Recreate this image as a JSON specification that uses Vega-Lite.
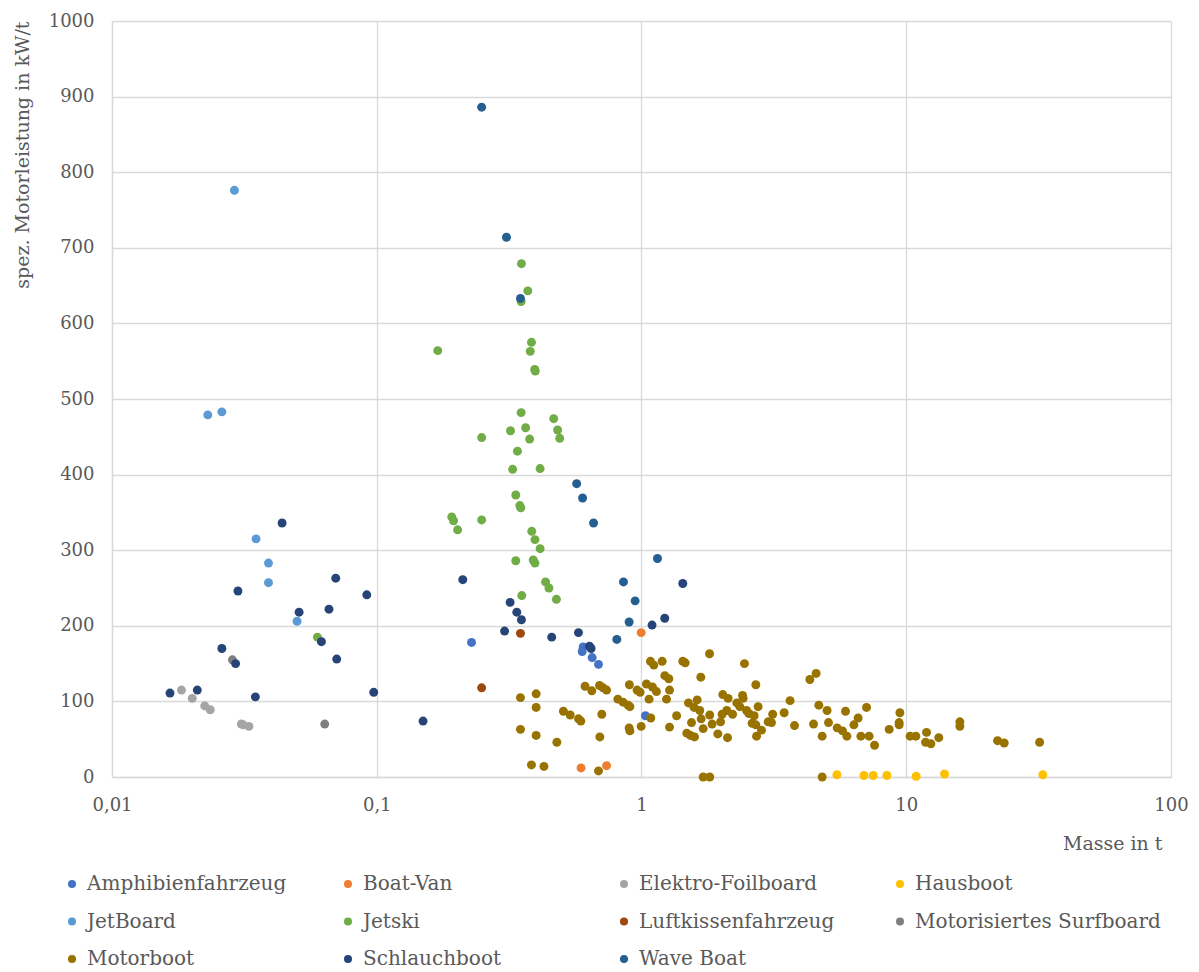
{
  "$schema": "https://vega.github.io/schema/vega-lite/v6.json",
  "width": 1059,
  "height": 756,
  "autosize": {"type": "none"},
  "padding": {"left": 112, "top": 21, "right": 28, "bottom": 195},
  "background": "white",
  "datasets": {
    "pts": [
      {"t":"Amphibienfahrzeug","m":0.228,"p":178},{"t":"Amphibienfahrzeug","m":0.602,"p":172},{"t":"Amphibienfahrzeug","m":0.597,"p":166},{"t":"Amphibienfahrzeug","m":0.651,"p":158},{"t":"Amphibienfahrzeug","m":0.688,"p":149},{"t":"Amphibienfahrzeug","m":1.035,"p":81},
      {"t":"Boat-Van","m":0.997,"p":191},{"t":"Boat-Van","m":0.591,"p":12},{"t":"Boat-Van","m":0.738,"p":15},
      {"t":"Elektro-Foilboard","m":0.0183,"p":115},{"t":"Elektro-Foilboard","m":0.0201,"p":104},{"t":"Elektro-Foilboard","m":0.0224,"p":94},{"t":"Elektro-Foilboard","m":0.0235,"p":89},{"t":"Elektro-Foilboard","m":0.0308,"p":70},{"t":"Elektro-Foilboard","m":0.0313,"p":69},{"t":"Elektro-Foilboard","m":0.0329,"p":67},
      {"t":"Hausboot","m":5.47,"p":3},{"t":"Hausboot","m":6.92,"p":2},{"t":"Hausboot","m":7.5,"p":2},{"t":"Hausboot","m":8.45,"p":2},{"t":"Hausboot","m":10.9,"p":1},{"t":"Hausboot","m":13.95,"p":4},{"t":"Hausboot","m":32.8,"p":3},
      {"t":"JetBoard","m":0.029,"p":776},{"t":"JetBoard","m":0.023,"p":479},{"t":"JetBoard","m":0.026,"p":483},{"t":"JetBoard","m":0.035,"p":315},{"t":"JetBoard","m":0.039,"p":283},{"t":"JetBoard","m":0.039,"p":257},{"t":"JetBoard","m":0.05,"p":206},
      {"t":"Jetski","m":0.0597,"p":185},{"t":"Jetski","m":0.352,"p":679},{"t":"Jetski","m":0.372,"p":643},{"t":"Jetski","m":0.351,"p":629},{"t":"Jetski","m":0.384,"p":575},{"t":"Jetski","m":0.38,"p":563},{"t":"Jetski","m":0.17,"p":564},{"t":"Jetski","m":0.395,"p":539},{"t":"Jetski","m":0.397,"p":537},{"t":"Jetski","m":0.351,"p":482},{"t":"Jetski","m":0.466,"p":474},{"t":"Jetski","m":0.249,"p":449},{"t":"Jetski","m":0.32,"p":458},{"t":"Jetski","m":0.365,"p":462},{"t":"Jetski","m":0.378,"p":447},{"t":"Jetski","m":0.482,"p":459},{"t":"Jetski","m":0.491,"p":448},{"t":"Jetski","m":0.34,"p":431},{"t":"Jetski","m":0.326,"p":407},{"t":"Jetski","m":0.414,"p":408},{"t":"Jetski","m":0.335,"p":373},{"t":"Jetski","m":0.347,"p":359},{"t":"Jetski","m":0.35,"p":356},{"t":"Jetski","m":0.192,"p":344},{"t":"Jetski","m":0.195,"p":339},{"t":"Jetski","m":0.202,"p":327},{"t":"Jetski","m":0.249,"p":340},{"t":"Jetski","m":0.385,"p":325},{"t":"Jetski","m":0.396,"p":314},{"t":"Jetski","m":0.414,"p":302},{"t":"Jetski","m":0.335,"p":286},{"t":"Jetski","m":0.39,"p":287},{"t":"Jetski","m":0.396,"p":283},{"t":"Jetski","m":0.434,"p":258},{"t":"Jetski","m":0.447,"p":250},{"t":"Jetski","m":0.353,"p":240},{"t":"Jetski","m":0.477,"p":235},
      {"t":"Luftkissenfahrzeug","m":0.349,"p":190},{"t":"Luftkissenfahrzeug","m":0.249,"p":118},
      {"t":"Motorisiertes Surfboard","m":0.0285,"p":155},{"t":"Motorisiertes Surfboard","m":0.0636,"p":70},
      {"t":"Motorboot","m":0.349,"p":105},{"t":"Motorboot","m":0.4,"p":110},{"t":"Motorboot","m":0.4,"p":92},{"t":"Motorboot","m":0.349,"p":63},{"t":"Motorboot","m":0.4,"p":55},{"t":"Motorboot","m":0.479,"p":46},{"t":"Motorboot","m":0.384,"p":16},{"t":"Motorboot","m":0.428,"p":14},{"t":"Motorboot","m":0.688,"p":8},{"t":"Motorboot","m":0.507,"p":87},{"t":"Motorboot","m":0.538,"p":82},{"t":"Motorboot","m":0.578,"p":77},{"t":"Motorboot","m":0.59,"p":74},{"t":"Motorboot","m":0.612,"p":120},{"t":"Motorboot","m":0.649,"p":114},{"t":"Motorboot","m":0.694,"p":121},{"t":"Motorboot","m":0.716,"p":118},{"t":"Motorboot","m":0.738,"p":115},{"t":"Motorboot","m":0.708,"p":83},{"t":"Motorboot","m":0.696,"p":53},{"t":"Motorboot","m":0.9,"p":122},{"t":"Motorboot","m":0.962,"p":115},{"t":"Motorboot","m":0.988,"p":112},{"t":"Motorboot","m":0.814,"p":103},{"t":"Motorboot","m":0.852,"p":99},{"t":"Motorboot","m":0.89,"p":95},{"t":"Motorboot","m":0.904,"p":93},{"t":"Motorboot","m":0.898,"p":65},{"t":"Motorboot","m":0.904,"p":61},{"t":"Motorboot","m":0.997,"p":67},{"t":"Motorboot","m":1.081,"p":153},{"t":"Motorboot","m":1.113,"p":148},{"t":"Motorboot","m":1.197,"p":153},{"t":"Motorboot","m":1.225,"p":134},{"t":"Motorboot","m":1.268,"p":130},{"t":"Motorboot","m":1.044,"p":123},{"t":"Motorboot","m":1.1,"p":119},{"t":"Motorboot","m":1.139,"p":113},{"t":"Motorboot","m":1.276,"p":115},{"t":"Motorboot","m":1.068,"p":103},{"t":"Motorboot","m":1.243,"p":103},{"t":"Motorboot","m":1.084,"p":78},{"t":"Motorboot","m":1.276,"p":66},{"t":"Motorboot","m":1.357,"p":81},{"t":"Motorboot","m":1.432,"p":153},{"t":"Motorboot","m":1.462,"p":151},{"t":"Motorboot","m":1.807,"p":163},{"t":"Motorboot","m":2.449,"p":150},{"t":"Motorboot","m":1.675,"p":132},{"t":"Motorboot","m":4.324,"p":129},{"t":"Motorboot","m":4.567,"p":137},{"t":"Motorboot","m":2.703,"p":122},{"t":"Motorboot","m":1.505,"p":98},{"t":"Motorboot","m":1.623,"p":102},{"t":"Motorboot","m":1.58,"p":92},{"t":"Motorboot","m":1.66,"p":88},{"t":"Motorboot","m":1.81,"p":82},{"t":"Motorboot","m":1.68,"p":77},{"t":"Motorboot","m":1.545,"p":72},{"t":"Motorboot","m":1.71,"p":64},{"t":"Motorboot","m":1.483,"p":58},{"t":"Motorboot","m":1.531,"p":55},{"t":"Motorboot","m":1.585,"p":53},{"t":"Motorboot","m":1.942,"p":57},{"t":"Motorboot","m":2.113,"p":52},{"t":"Motorboot","m":1.848,"p":70},{"t":"Motorboot","m":1.989,"p":73},{"t":"Motorboot","m":2.016,"p":83},{"t":"Motorboot","m":2.1,"p":88},{"t":"Motorboot","m":2.208,"p":83},{"t":"Motorboot","m":2.028,"p":109},{"t":"Motorboot","m":2.124,"p":104},{"t":"Motorboot","m":2.291,"p":98},{"t":"Motorboot","m":2.352,"p":93},{"t":"Motorboot","m":2.408,"p":108},{"t":"Motorboot","m":2.42,"p":104},{"t":"Motorboot","m":2.493,"p":88},{"t":"Motorboot","m":2.544,"p":84},{"t":"Motorboot","m":2.664,"p":81},{"t":"Motorboot","m":2.757,"p":93},{"t":"Motorboot","m":2.616,"p":71},{"t":"Motorboot","m":2.703,"p":69},{"t":"Motorboot","m":2.84,"p":62},{"t":"Motorboot","m":2.72,"p":54},{"t":"Motorboot","m":3.008,"p":73},{"t":"Motorboot","m":3.13,"p":83},{"t":"Motorboot","m":3.097,"p":72},{"t":"Motorboot","m":3.458,"p":85},{"t":"Motorboot","m":3.64,"p":101},{"t":"Motorboot","m":3.784,"p":68},{"t":"Motorboot","m":4.675,"p":95},{"t":"Motorboot","m":4.465,"p":70},{"t":"Motorboot","m":4.813,"p":54},{"t":"Motorboot","m":5.085,"p":72},{"t":"Motorboot","m":5.023,"p":88},{"t":"Motorboot","m":4.813,"p":0},{"t":"Motorboot","m":5.483,"p":65},{"t":"Motorboot","m":5.747,"p":61},{"t":"Motorboot","m":5.967,"p":54},{"t":"Motorboot","m":5.897,"p":87},{"t":"Motorboot","m":6.34,"p":69},{"t":"Motorboot","m":6.58,"p":78},{"t":"Motorboot","m":6.74,"p":54},{"t":"Motorboot","m":7.24,"p":54},{"t":"Motorboot","m":7.08,"p":92},{"t":"Motorboot","m":7.59,"p":42},{"t":"Motorboot","m":8.62,"p":63},{"t":"Motorboot","m":9.46,"p":85},{"t":"Motorboot","m":9.4,"p":72},{"t":"Motorboot","m":9.4,"p":69},{"t":"Motorboot","m":10.34,"p":54},{"t":"Motorboot","m":10.87,"p":54},{"t":"Motorboot","m":11.93,"p":59},{"t":"Motorboot","m":11.83,"p":46},{"t":"Motorboot","m":12.39,"p":44},{"t":"Motorboot","m":13.27,"p":52},{"t":"Motorboot","m":15.94,"p":73},{"t":"Motorboot","m":15.94,"p":67},{"t":"Motorboot","m":22.13,"p":48},{"t":"Motorboot","m":23.44,"p":45},{"t":"Motorboot","m":31.9,"p":46},{"t":"Motorboot","m":1.71,"p":0},{"t":"Motorboot","m":1.81,"p":0},
      {"t":"Schlauchboot","m":0.0439,"p":336},{"t":"Schlauchboot","m":0.07,"p":263},{"t":"Schlauchboot","m":0.0917,"p":241},{"t":"Schlauchboot","m":0.0299,"p":246},{"t":"Schlauchboot","m":0.0509,"p":218},{"t":"Schlauchboot","m":0.066,"p":222},{"t":"Schlauchboot","m":0.0618,"p":179},{"t":"Schlauchboot","m":0.026,"p":170},{"t":"Schlauchboot","m":0.0293,"p":150},{"t":"Schlauchboot","m":0.0706,"p":156},{"t":"Schlauchboot","m":0.01656,"p":111},{"t":"Schlauchboot","m":0.021,"p":115},{"t":"Schlauchboot","m":0.0348,"p":106},{"t":"Schlauchboot","m":0.0974,"p":112},{"t":"Schlauchboot","m":0.1496,"p":74},{"t":"Schlauchboot","m":0.2113,"p":261},{"t":"Schlauchboot","m":0.319,"p":231},{"t":"Schlauchboot","m":0.338,"p":218},{"t":"Schlauchboot","m":0.352,"p":208},{"t":"Schlauchboot","m":0.304,"p":193},{"t":"Schlauchboot","m":0.458,"p":185},{"t":"Schlauchboot","m":0.578,"p":191},{"t":"Schlauchboot","m":0.636,"p":173},{"t":"Schlauchboot","m":0.645,"p":170},{"t":"Schlauchboot","m":1.096,"p":201},{"t":"Schlauchboot","m":1.224,"p":210},{"t":"Schlauchboot","m":1.432,"p":256},
      {"t":"Wave Boat","m":0.249,"p":886},{"t":"Wave Boat","m":0.309,"p":714},{"t":"Wave Boat","m":0.349,"p":633},{"t":"Wave Boat","m":0.569,"p":388},{"t":"Wave Boat","m":0.599,"p":369},{"t":"Wave Boat","m":0.659,"p":336},{"t":"Wave Boat","m":1.149,"p":289},{"t":"Wave Boat","m":0.855,"p":258},{"t":"Wave Boat","m":0.946,"p":233},{"t":"Wave Boat","m":0.898,"p":205},{"t":"Wave Boat","m":0.807,"p":182}
    ]
  },
  "data": {"name": "pts"},
  "mark": {"type": "circle", "size": 80, "opacity": 1},
  "encoding": {
    "x": {
      "field": "m", "type": "quantitative",
      "scale": {"type": "log", "domain": [0.01, 100], "nice": false},
      "axis": {
        "values": [0.01, 0.1, 1, 10, 100],
        "labelExpr": "replace(toString(datum.value), '.', ',')",
        "labelFlush": false,
        "labelOverlap": false,
        "title": "Masse in t",
        "titleAnchor": "end",
        "titleAlign": "right",
        "titleX": 1050,
        "titleY": 66,
        "titleBaseline": "middle",
        "labelPadding": 19
      }
    },
    "y": {
      "field": "p", "type": "quantitative",
      "scale": {"domain": [0, 1000], "nice": false},
      "axis": {
        "values": [0, 100, 200, 300, 400, 500, 600, 700, 800, 900, 1000],
        "format": "d",
        "labelFlush": false,
        "title": "spez. Motorleistung in kW/t",
        "titleAnchor": "end",
        "titlePadding": 16,
        "labelPadding": 18
      }
    },
    "color": {
      "field": "t", "type": "nominal",
      "scale": {
        "domain": ["Amphibienfahrzeug", "Boat-Van", "Elektro-Foilboard", "Hausboot", "JetBoard", "Jetski", "Luftkissenfahrzeug", "Motorisiertes Surfboard", "Motorboot", "Schlauchboot", "Wave Boat"],
        "range": ["#4472C4", "#ED7D31", "#A5A5A5", "#FFC000", "#5B9BD5", "#70AD47", "#9E480E", "#7F7F7F", "#997300", "#264478", "#255E91"]
      },
      "legend": {
        "title": null,
        "orient": "none",
        "legendX": -50,
        "legendY": 853,
        "direction": "horizontal",
        "columns": 4,
        "gridAlign": "all",
        "columnPadding": 5,
        "rowPadding": 17.5,
        "symbolType": "circle",
        "symbolSize": 64,
        "symbolOpacity": 1,
        "labelOffset": 5,
        "padding": 0
      }
    }
  },
  "config": {
    "view": {"stroke": null},
    "font": "DejaVu Serif",
    "axis": {
      "labelFont": "DejaVu Serif",
      "labelFontSize": 18,
      "labelColor": "#595959",
      "titleFont": "DejaVu Serif",
      "titleFontSize": 19,
      "titleFontWeight": "normal",
      "titleColor": "#595959",
      "gridColor": "#D9D9D9",
      "gridWidth": 1.3,
      "domainColor": "#D9D9D9",
      "domainWidth": 1.3,
      "ticks": false
    },
    "legend": {
      "labelFont": "DejaVu Serif",
      "labelFontSize": 20,
      "labelColor": "#595959",
      "labelLimit": 400
    }
  }
}
